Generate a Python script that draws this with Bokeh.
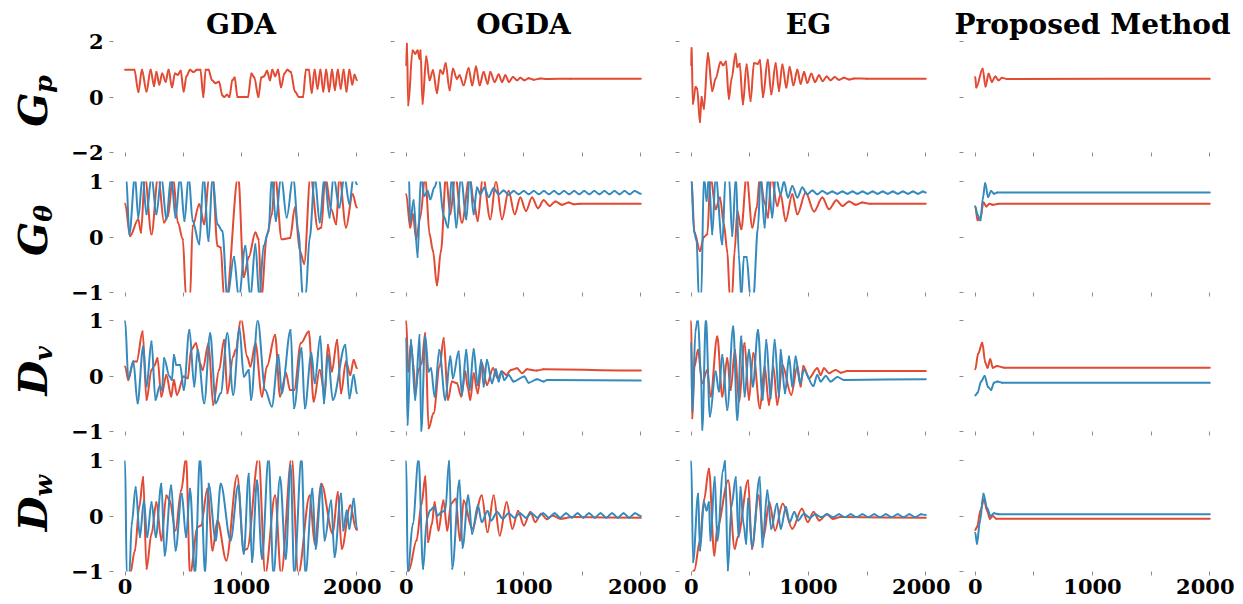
import math
from bokeh.plotting import figure
from bokeh.layouts import gridplot
from bokeh.models import Range1d, FixedTicker
from bokeh.core.properties import value
from bokeh.embed import file_html
from bokeh.resources import INLINE

# ---------------- data (turning points) ----------------
METHODS = ["GDA", "OGDA", "EG", "Proposed Method"]
ROW_LABELS = [("G", "p"), ("G", "θ"), ("D", "v"), ("D", "w")]
X_TICKS = [0, 1000, 2000]
X_MINOR = [500, 1500]
Y_TICKS_TOP = [-2, 0, 2]
Y_TICKS = [-1, 0, 1]

# Row 1: G_p (red only)
GDA_GP = [(0,0.98),(80,0.98),(115,0.18),(145,0.98),(185,0.2),(220,0.98),(250,0.4),(270,0.9),(295,0.45),(320,0.85),(350,0.55),(375,0.98),(405,0.35),(430,0.85),(455,0.8),(480,0.95),(505,0.2),(530,0.75),(560,0.98),(590,0.9),(620,0.98),(650,0.98),(675,0.0),(695,0.98),(720,0.98),(750,0.6),(780,0.5),(810,0.55),(840,0.05),(855,0.0),(880,0.08),(900,0.0),(925,0.6),(945,0.7),(970,0.0),(985,0.0),(1060,0.0),(1090,0.85),(1115,0.7),(1150,0.0),(1175,0.7),(1200,0.75),(1225,0.95),(1250,0.6),(1270,0.98),(1295,0.75),(1320,0.98),(1345,0.35),(1375,0.85),(1400,0.98),(1430,0.9),(1465,0.2),(1500,0.0),(1535,0.0),(1560,0.98),(1585,0.98),(1610,0.15),(1635,0.98),(1660,0.3),(1685,0.98),(1710,0.2),(1735,0.98),(1760,0.2),(1785,0.98),(1810,0.25),(1835,0.98),(1860,0.3),(1885,0.98),(1910,0.2),(1935,0.98),(1960,0.45),(1980,0.8),(2000,0.6)]
OGDA_GP = [(0,1.14),(6,1.92),(17,-0.3),(54,1.68),(77,1.56),(97,1.68),(114,1.38),(122,1.68),(139,-0.24),(171,1.46),(199,0.6),(228,0.96),(262,0.14),(290,0.96),(313,0.84),(336,1.22),(370,0.24),(398,1.02),(432,0.66),(455,0.78),(489,0.42),(532,1.04),(563,0.42),(595,1.1),(626,0.42),(660,0.9),(694,0.48),(717,0.9),(754,0.54),(788,0.81),(817,0.54),(845,0.78),(876,0.54),(910,0.72),(945,0.6),(973,0.69),(1007,0.6),(1044,0.68),(1087,0.62),(1144,0.67),(1200,0.65),(1400,0.66),(2000,0.66)]
EG_GP = [(0,1.14),(3,1.77),(14,-0.24),(37,0.36),(51,0.3),(74,-0.9),(88,0.0),(108,-0.42),(142,1.58),(179,0.22),(208,0.66),(250,1.26),(273,1.14),(296,1.28),(321,-0.06),(344,0.66),(378,1.56),(393,1.08),(413,1.2),(441,-0.26),(472,1.17),(506,-0.14),(535,1.22),(569,1.2),(586,1.32),(612,0.0),(652,1.34),(683,0.1),(720,1.22),(748,0.22),(777,1.17),(811,0.34),(839,1.08),(871,0.42),(905,0.98),(933,0.48),(962,0.9),(990,0.51),(1024,0.84),(1056,0.54),(1090,0.78),(1121,0.57),(1155,0.74),(1189,0.6),(1223,0.72),(1260,0.62),(1303,0.69),(1346,0.63),(1388,0.67),(1500,0.66),(2000,0.66)]
PROP_GP = [(0,0.72),(9,0.34),(63,1.02),(88,0.38),(114,0.84),(142,0.54),(171,0.74),(199,0.6),(228,0.69),(270,0.65),(2000,0.66)]

# Row 2: G_theta (red, blue)
GDA_GT_R = [(0,0.6),(43,0.02),(114,0.32),(137,0.08),(171,1.1),(228,0.05),(285,1.1),(336,0.26),(370,0.38),(413,1.1),(455,0.26),(498,-0.04),(526,-1.1),(560,-1.1),(583,0.2),(640,0.59),(683,0.23),(725,1.1),(754,1.1),(797,-0.16),(825,-0.19),(854,-1.1),(873,-1.1),(976,1.1),(1024,-0.72),(1067,-0.36),(1124,0.08),(1152,-0.04),(1175,-1.1),(1223,0.02),(1266,0.41),(1294,1.1),(1351,-0.04),(1423,-0.02),(1465,0.53),(1508,-0.25),(1545,-0.48),(1599,1.1),(1664,0.14),(1693,0.17),(1727,1.1),(1778,0.5),(1821,0.23),(1849,1.1),(1906,0.17),(1963,0.77),(2000,0.53)]
GDA_GT_B = [(0,1.1),(9,1.1),(37,0.05),(85,1.1),(114,0.35),(151,1.1),(185,0.41),(228,1.1),(270,0.41),(313,1.1),(356,0.32),(398,1.1),(435,0.35),(475,1.1),(512,0.29),(549,1.1),(583,0.29),(640,-0.13),(677,1.1),(720,-0.07),(754,1.1),(797,0.23),(839,0.11),(882,-1.1),(939,-0.36),(981,-1.1),(1038,-0.16),(1081,-1.1),(1124,-0.13),(1158,-1.1),(1195,-0.16),(1238,0.11),(1266,1.1),(1300,0.29),(1346,1.1),(1394,0.35),(1451,1.1),(1494,0.11),(1536,-1.1),(1556,-1.1),(1593,-0.01),(1636,1.1),(1679,0.26),(1721,1.1),(1764,0.35),(1798,1.1),(1849,0.53),(1892,1.1),(1935,0.59),(1972,1.1),(2000,0.95)]
OGDA_GT_R = [(0,0.77),(34,0.17),(57,0.41),(85,-0.04),(119,0.35),(162,1.1),(199,0.05),(228,-0.25),(262,-0.87),(296,-0.25),(339,1.1),(376,0.41),(418,1.1),(475,0.26),(541,1.1),(575,0.65),(609,0.29),(654,1.1),(717,0.32),(765,1.01),(817,0.32),(873,0.83),(925,0.41),(973,0.71),(1021,0.47),(1073,0.71),(1124,0.52),(1172,0.66),(1223,0.56),(1272,0.64),(1329,0.58),(1386,0.62),(1428,0.59),(1485,0.6),(2000,0.6)]
OGDA_GT_B = [(0,1.1),(23,1.1),(34,0.26),(63,0.66),(97,-0.36),(125,1.1),(154,0.74),(182,0.83),(205,0.68),(239,0.89),(276,1.1),(319,0.38),(356,0.17),(390,1.1),(427,0.17),(467,1.1),(512,0.32),(541,1.1),(575,0.41),(603,0.89),(632,0.77),(666,0.89),(703,0.72),(745,0.88),(788,0.77),(831,0.84),(873,0.76),(916,0.83),(959,0.77),(1002,0.83),(1045,0.77),(1088,0.83),(1131,0.77),(1174,0.83),(1217,0.77),(1260,0.83),(1303,0.77),(1346,0.83),(1389,0.77),(1432,0.83),(1475,0.77),(1518,0.83),(1561,0.77),(1604,0.83),(1647,0.77),(1690,0.83),(1733,0.77),(1776,0.83),(1819,0.77),(1862,0.83),(1905,0.77),(1948,0.83),(2000,0.78)]
EG_GT_R = [(0,1.1),(28,0.08),(74,-0.25),(108,0.0),(137,0.05),(165,1.1),(208,0.5),(245,0.71),(279,0.22),(307,-0.25),(330,-1.1),(347,-1.1),(370,-0.25),(393,0.47),(427,0.14),(472,1.1),(521,0.17),(558,0.53),(586,1.1),(626,0.62),(654,0.35),(683,1.1),(734,0.56),(762,0.77),(805,0.29),(862,0.77),(905,0.41),(976,0.8),(1047,0.46),(1118,0.71),(1175,0.5),(1238,0.66),(1289,0.56),(1346,0.64),(1403,0.58),(1459,0.62),(1531,0.6),(2000,0.6)]
EG_GT_B = [(0,1.1),(23,0.11),(46,-0.07),(65,-1.1),(85,-1.1),(108,1.1),(131,0.65),(151,1.1),(179,0.05),(208,1.1),(265,-0.13),(293,1.1),(321,1.1),(350,0.02),(381,1.1),(407,-0.36),(427,-1.1),(449,-0.36),(472,-0.36),(506,-1.1),(529,-1.1),(569,0.17),(592,1.1),(626,0.17),(654,1.1),(691,0.35),(720,1.1),(762,0.77),(791,1.0),(825,0.71),(862,0.92),(905,0.71),(947,0.89),(990,0.77),(1033,0.84),(1075,0.77),(1118,0.83),(1160,0.78),(1203,0.82),(1246,0.78),(1289,0.82),(1332,0.78),(1375,0.82),(1418,0.78),(1461,0.82),(1504,0.78),(1547,0.82),(1590,0.78),(1633,0.82),(1676,0.78),(1719,0.82),(1762,0.78),(1805,0.82),(1848,0.78),(1891,0.82),(1934,0.78),(1977,0.82),(2000,0.8)]
PROP_GT_R = [(0,0.55),(20,0.3),(45,0.35),(70,0.62),(95,0.55),(120,0.6),(150,0.58),(200,0.6),(2000,0.6)]
PROP_GT_B = [(0,0.55),(20,0.4),(45,0.3),(65,0.7),(85,0.97),(110,0.72),(135,0.83),(160,0.78),(190,0.8),(2000,0.8)]

# Row 3: D_v (red, blue)
GDA_DV_R = [(0,0.17),(28,-0.07),(71,0.26),(100,0.26),(151,0.8),(185,-0.43),(228,0.11),(256,0.2),(279,0.32),(313,-0.37),(356,0.02),(398,-0.37),(421,-0.07),(447,-0.34),(506,-0.01),(541,-0.04),(569,0.47),(612,0.59),(646,0.23),(669,0.11),(720,0.59),(760,-0.52),(811,0.11),(854,0.65),(882,-0.31),(933,0.35),(953,0.47),(1001,1.04),(1053,0.35),(1081,0.17),(1124,0.59),(1181,-0.37),(1223,0.17),(1294,0.74),(1337,-0.37),(1388,0.05),(1423,-0.25),(1459,-0.25),(1516,0.59),(1585,0.8),(1627,-0.46),(1679,0.11),(1721,-0.31),(1750,0.56),(1784,0.08),(1829,0.65),(1863,-0.31),(1906,0.26),(1943,0.02),(1972,0.29),(2000,0.14)]
GDA_DV_B = [(0,1.0),(28,-0.04),(71,0.26),(108,-0.49),(156,0.53),(185,-0.19),(228,0.62),(262,-0.43),(299,-0.18),(319,-0.25),(336,0.32),(384,-0.01),(404,-0.07),(421,0.38),(441,0.2),(475,0.2),(506,-0.25),(555,0.83),(597,-0.19),(626,0.47),(683,-0.49),(734,0.77),(782,-0.49),(825,-0.31),(882,0.77),(933,-0.34),(987,0.86),(1024,-0.01),(1067,0.11),(1087,-0.43),(1144,1.0),(1209,-0.25),(1266,-0.55),(1323,0.38),(1351,-0.31),(1428,0.83),(1457,-0.58),(1522,0.5),(1551,-0.58),(1607,0.41),(1636,-0.13),(1684,0.71),(1716,-0.49),(1750,0.38),(1792,-0.43),(1900,0.56),(1935,-0.4),(1972,0.02),(2000,-0.31)]
OGDA_DV_R = [(0,1.0),(17,0.08),(40,0.59),(63,0.17),(77,-0.31),(105,0.11),(131,0.23),(162,0.77),(191,-0.94),(233,-0.67),(285,0.17),(319,0.68),(356,-0.43),(390,-0.1),(432,-0.13),(469,-0.37),(504,0.08),(523,-0.19),(546,-0.43),(575,0.05),(609,-0.31),(646,0.23),(688,-0.16),(740,0.14),(780,-0.04),(817,0.08),(853,0.02),(893,0.11),(945,0.14),(987,0.05),(1030,0.12),(1115,0.1),(1172,0.12),(2000,0.1)]
OGDA_DV_B = [(0,0.68),(11,-0.88),(40,0.65),(77,-0.43),(114,0.74),(128,-1.0),(162,0.71),(191,0.08),(211,0.14),(242,-0.37),(282,0.47),(333,-0.43),(376,0.35),(398,-0.04),(447,0.44),(475,-0.34),(512,0.47),(541,-0.25),(575,0.48),(609,-0.16),(640,0.29),(660,-0.19),(688,0.29),(731,-0.13),(765,0.12),(788,-0.1),(811,0.08),(836,-0.07),(873,0.02),(916,-0.1),(1007,-0.01),(1044,-0.12),(1115,-0.06),(1172,-0.1),(1201,-0.07),(2000,-0.08)]
EG_DV_R = [(0,1.0),(9,-0.76),(28,0.17),(57,0.47),(94,-0.13),(137,0.11),(165,-0.37),(222,0.71),(265,-0.37),(307,0.32),(336,-0.25),(373,0.47),(407,-0.46),(455,0.59),(492,-0.43),(529,0.41),(586,-0.58),(626,0.17),(663,-0.52),(700,0.17),(734,-0.52),(777,0.2),(853,-0.34),(905,0.17),(933,-0.19),(956,0.18),(1004,-0.04),(1075,0.14),(1104,0.02),(1132,0.14),(1175,0.05),(1232,0.11),(1275,0.06),(1331,0.09),(2000,0.09)]
EG_DV_B = [(0,0.59),(9,-0.64),(37,0.83),(57,1.04),(85,-0.07),(94,-0.97),(125,1.04),(159,-0.73),(208,0.08),(236,-0.28),(265,0.38),(307,-0.61),(358,0.89),(393,-0.79),(427,0.71),(455,-0.37),(492,0.47),(526,-0.19),(569,0.83),(609,-0.43),(640,0.65),(677,-0.4),(711,0.65),(748,-0.37),(762,0.47),(800,-0.31),(834,0.35),(862,-0.19),(890,0.35),(928,-0.13),(962,0.11),(1041,-0.18),(1075,0.02),(1104,-0.1),(1147,0.0),(1189,-0.1),(1246,-0.02),(1303,-0.07),(2000,-0.06)]
PROP_DV_R = [(0,0.12),(25,0.4),(60,0.6),(85,0.25),(105,0.15),(128,0.3),(150,0.15),(185,0.18),(250,0.15),(2000,0.15)]
PROP_DV_B = [(0,-0.35),(20,-0.3),(50,-0.1),(80,0.0),(110,-0.2),(135,-0.25),(160,-0.12),(190,-0.1),(230,-0.12),(2000,-0.12)]

# Row 4: D_w (red, blue)
GDA_DW_R = [(0,-1.05),(43,-1.05),(85,-0.62),(122,0.16),(156,0.7),(185,-0.95),(228,-0.32),(270,0.25),(313,-0.44),(356,0.37),(384,0.28),(435,-0.26),(484,0.46),(526,1.06),(560,-1.05),(626,-0.2),(654,-0.17),(711,0.49),(754,-0.62),(797,-0.08),(873,-0.8),(967,0.73),(1024,-0.62),(1053,-0.59),(1152,1.06),(1209,-1.05),(1294,0.37),(1346,-1.05),(1437,1.06),(1494,-1.05),(1593,0.37),(1636,-0.5),(1693,0.58),(1792,-0.32),(1835,0.43),(1869,-0.59),(1943,0.19),(1992,-0.23),(2000,-0.25)]
GDA_DW_B = [(0,1.0),(14,-1.05),(37,-1.05),(57,-0.14),(91,0.52),(128,-0.38),(162,0.28),(191,-0.38),(228,0.25),(265,-0.38),(313,0.58),(341,-0.71),(398,0.55),(435,-0.62),(489,0.4),(526,-0.38),(560,0.49),(603,-1.05),(646,1.06),(691,-1.05),(720,0.58),(782,-0.44),(825,0.58),(910,-0.44),(976,0.55),(1024,-0.68),(1067,0.76),(1095,-0.83),(1138,0.64),(1181,-0.77),(1238,1.06),(1280,-1.05),(1337,0.7),(1386,-0.77),(1428,0.91),(1459,-1.05),(1522,1.06),(1556,-1.05),(1616,0.49),(1644,-0.59),(1693,0.55),(1721,-0.44),(1778,0.28),(1807,-0.74),(1863,0.4),(1883,-0.26),(1912,0.1),(1935,-0.23),(1972,0.31),(2000,-0.23)]
OGDA_DW_R = [(0,-1.05),(23,-0.98),(88,-0.44),(131,0.22),(163,0.71),(186,-0.47),(219,-0.14),(242,0.25),(275,-0.26),(317,0.28),(350,-0.26),(382,0.22),(422,0.31),(458,-0.44),(490,0.28),(562,-0.23),(644,0.37),(693,-0.29),(745,0.37),(797,-0.35),(856,0.25),(905,-0.23),(954,0.09),(1003,-0.17),(1059,0.07),(1101,-0.11),(1150,0.04),(1199,-0.06),(1248,0.01),(1314,-0.05),(1412,-0.02),(2000,-0.03)]
OGDA_DW_B = [(0,1.0),(13,-1.05),(56,-0.14),(105,1.03),(144,-0.95),(176,-0.05),(203,0.1),(235,0.16),(268,0.01),(301,0.07),(333,0.1),(366,1.0),(392,-0.95),(454,0.64),(480,-0.57),(529,0.37),(562,-0.32),(611,0.19),(644,-0.11),(693,0.09),(725,-0.08),(775,0.07),(824,-0.05),(873,0.05),(922,-0.03),(971,0.05),(1020,-0.03),(1069,0.05),(1118,-0.03),(1167,0.05),(1216,-0.03),(1265,0.05),(1314,-0.03),(1363,0.05),(1412,-0.03),(1461,0.05),(1510,-0.03),(1559,0.05),(1608,-0.03),(1657,0.05),(1706,-0.03),(1755,0.05),(1804,-0.03),(1853,0.05),(1902,-0.03),(1951,0.05),(2000,0.0)]
EG_DW_R = [(0,-1.05),(26,-0.98),(75,-0.44),(108,0.28),(151,0.85),(197,-0.71),(223,-0.2),(315,0.64),(371,-0.59),(397,-0.38),(485,0.64),(518,-0.59),(574,0.37),(616,-0.38),(666,0.25),(715,-0.26),(780,0.22),(862,-0.23),(944,0.13),(994,-0.11),(1043,0.07),(1092,-0.08),(1157,0.03),(1207,-0.05),(1272,-0.02),(2000,-0.03)]
EG_DW_B = [(0,1.0),(16,-0.83),(59,0.4),(75,-0.62),(108,0.25),(131,0.1),(151,0.25),(164,-0.44),(200,0.7),(223,-0.44),(272,0.82),(289,1.0),(312,-0.98),(344,0.19),(380,0.7),(403,-0.38),(420,0.52),(446,-0.14),(469,-0.5),(485,0.31),(518,-0.56),(584,0.7),(607,-0.56),(649,0.46),(682,-0.23),(731,0.22),(764,-0.23),(807,0.16),(839,-0.11),(879,0.07),(912,-0.08),(961,0.04),(1010,-0.03),(1059,0.03),(1108,-0.02),(1160,0.03),(1210,-0.02),(1260,0.03),(1310,-0.02),(1360,0.03),(1410,-0.02),(1460,0.03),(1510,-0.02),(1560,0.03),(1610,-0.02),(1660,0.03),(1710,-0.02),(1760,0.03),(1810,-0.02),(1860,0.03),(1910,-0.02),(1960,0.03),(2000,0.02)]
PROP_DW_R = [(0,-0.25),(15,-0.2),(45,0.1),(75,0.3),(100,0.1),(125,-0.05),(150,0.0),(180,-0.05),(2000,-0.05)]
PROP_DW_B = [(0,-0.3),(15,-0.5),(40,-0.1),(70,0.4),(100,0.15),(130,0.0),(160,0.05),(200,0.03),(2000,0.03)]

# ---------------- styling / layout ----------------
RED = "#E24A33"
BLUE = "#348ABD"
TICK_COLOR = "#8c8c8c"
SERIF = "DejaVu Serif"

PANELS = [
    [[(GDA_GP, RED)], [(OGDA_GP, RED)], [(EG_GP, RED)], [(PROP_GP, RED)]],
    [[(GDA_GT_R, RED), (GDA_GT_B, BLUE)], [(OGDA_GT_R, RED), (OGDA_GT_B, BLUE)],
     [(EG_GT_R, RED), (EG_GT_B, BLUE)], [(PROP_GT_R, RED), (PROP_GT_B, BLUE)]],
    [[(GDA_DV_R, RED), (GDA_DV_B, BLUE)], [(OGDA_DV_R, RED), (OGDA_DV_B, BLUE)],
     [(EG_DV_R, RED), (EG_DV_B, BLUE)], [(PROP_DV_R, RED), (PROP_DV_B, BLUE)]],
    [[(GDA_DW_R, RED), (GDA_DW_B, BLUE)], [(OGDA_DW_R, RED), (OGDA_DW_B, BLUE)],
     [(EG_DW_R, RED), (EG_DW_B, BLUE)], [(PROP_DW_R, RED), (PROP_DW_B, BLUE)]],
]

FRAME_W, FRAME_H = 258, 111
LABEL_W = 68
COL_LEFT = [42, 13, 13, 13]
COL_RIGHT = [13, 14, 13, 13]
ROW_TOP = [41, 15, 15, 16]
ROW_BOTTOM = [14, 13, 13, 32]


def fmt(v):
    return ("−" + str(abs(v))) if v < 0 else str(v)


def draw_smooth(p, pairs, color):
    """Join the read turning points with smooth (horizontal-tangent) Bezier segments."""
    xs = [a for a, b in pairs]
    ys = [b for a, b in pairs]
    x0, x1, y0, y1 = xs[:-1], xs[1:], ys[:-1], ys[1:]
    cx0 = [a + (b - a) / 3 for a, b in zip(x0, x1)]
    cx1 = [b - (b - a) / 3 for a, b in zip(x0, x1)]
    p.bezier(x0=x0, y0=y0, x1=x1, y1=y1, cx0=cx0, cy0=y0, cx1=cx1, cy1=y1,
             line_color=color, line_width=2, line_cap="round")


figs = []
for r in range(4):
    row = []
    yt = Y_TICKS_TOP if r == 0 else Y_TICKS
    ylim = (-2, 2) if r == 0 else (-1, 1)
    H = ROW_TOP[r] + FRAME_H + ROW_BOTTOM[r]

    # row label (G_p, ...) drawn in its own narrow panel
    lab = figure(width=LABEL_W, height=H, x_range=Range1d(0, LABEL_W), y_range=Range1d(0, H),
                 output_backend="svg", toolbar_location=None, x_axis_type=None, y_axis_type=None,
                 min_border=0)
    lab.outline_line_color = None
    lab.grid.visible = False
    lab.background_fill_color = "white"
    lab.border_fill_color = "white"
    anchor = H - (ROW_TOP[r] + FRAME_H / 2 - 20)
    main, sub = ROW_LABELS[r]
    lab.text(x=[32], y=[anchor], text=[main], angle=math.pi / 2,
             text_font=value(SERIF), text_font_style="bold italic", text_font_size="40px",
             text_align="right", text_baseline="alphabetic", text_color="black")
    lab.text(x=[43], y=[anchor], text=[sub], angle=math.pi / 2,
             text_font=value(SERIF), text_font_style="bold italic", text_font_size="25px",
             text_align="left", text_baseline="alphabetic", text_color="black")
    row.append(lab)

    for c in range(4):
        left, right = COL_LEFT[c], COL_RIGHT[c]
        p = figure(width=left + FRAME_W + right, height=H,
                   x_range=Range1d(-100, 2100), y_range=Range1d(*ylim),
                   output_backend="svg", toolbar_location=None,
                   min_border_left=left, min_border_right=right,
                   min_border_top=ROW_TOP[r], min_border_bottom=ROW_BOTTOM[r])
        p.outline_line_color = None
        p.xgrid.visible = False
        p.ygrid.visible = False
        p.background_fill_color = "white"
        p.border_fill_color = "white"

        for ax in (p.xaxis[0], p.yaxis[0]):
            ax.axis_line_color = None
            ax.major_tick_line_color = TICK_COLOR
            ax.minor_tick_line_color = TICK_COLOR
            ax.major_tick_in = 0
            ax.major_tick_out = 4
            ax.minor_tick_in = 0
            ax.minor_tick_out = 4
            ax.major_label_text_font = SERIF
            ax.major_label_text_font_style = "bold"
            ax.major_label_text_color = "black"
            ax.major_label_text_font_size = "21px"

        p.xaxis.ticker = FixedTicker(ticks=X_TICKS, minor_ticks=X_MINOR)
        p.yaxis.ticker = FixedTicker(ticks=yt, minor_ticks=[])
        p.xaxis.major_label_standoff = 3
        p.yaxis.major_label_standoff = 6

        if r == 3:
            p.xaxis.major_label_overrides = {t: str(t) for t in X_TICKS}
        else:
            p.xaxis.major_label_overrides = {t: "" for t in X_TICKS}
            p.xaxis.major_label_text_font_size = "0px"
            p.xaxis.major_label_standoff = 0
        if c == 0:
            p.yaxis.major_label_overrides = {t: fmt(t) for t in yt}
        else:
            p.yaxis.major_label_overrides = {t: "" for t in yt}
            p.yaxis.major_label_text_font_size = "0px"
            p.yaxis.major_label_standoff = 0

        if r == 0:
            p.title.text = METHODS[c]
            p.title.align = "center"
            p.title.text_font = SERIF
            p.title.text_font_style = "bold"
            p.title.text_font_size = "28px"
            p.title.text_color = "black"
            p.title.standoff = 2

        for pairs, color in PANELS[r][c]:
            draw_smooth(p, pairs, color)
        row.append(p)
    figs.append(row)

grid = gridplot(figs, toolbar_location=None)
open("out.html", "w").write(file_html(grid, INLINE))
